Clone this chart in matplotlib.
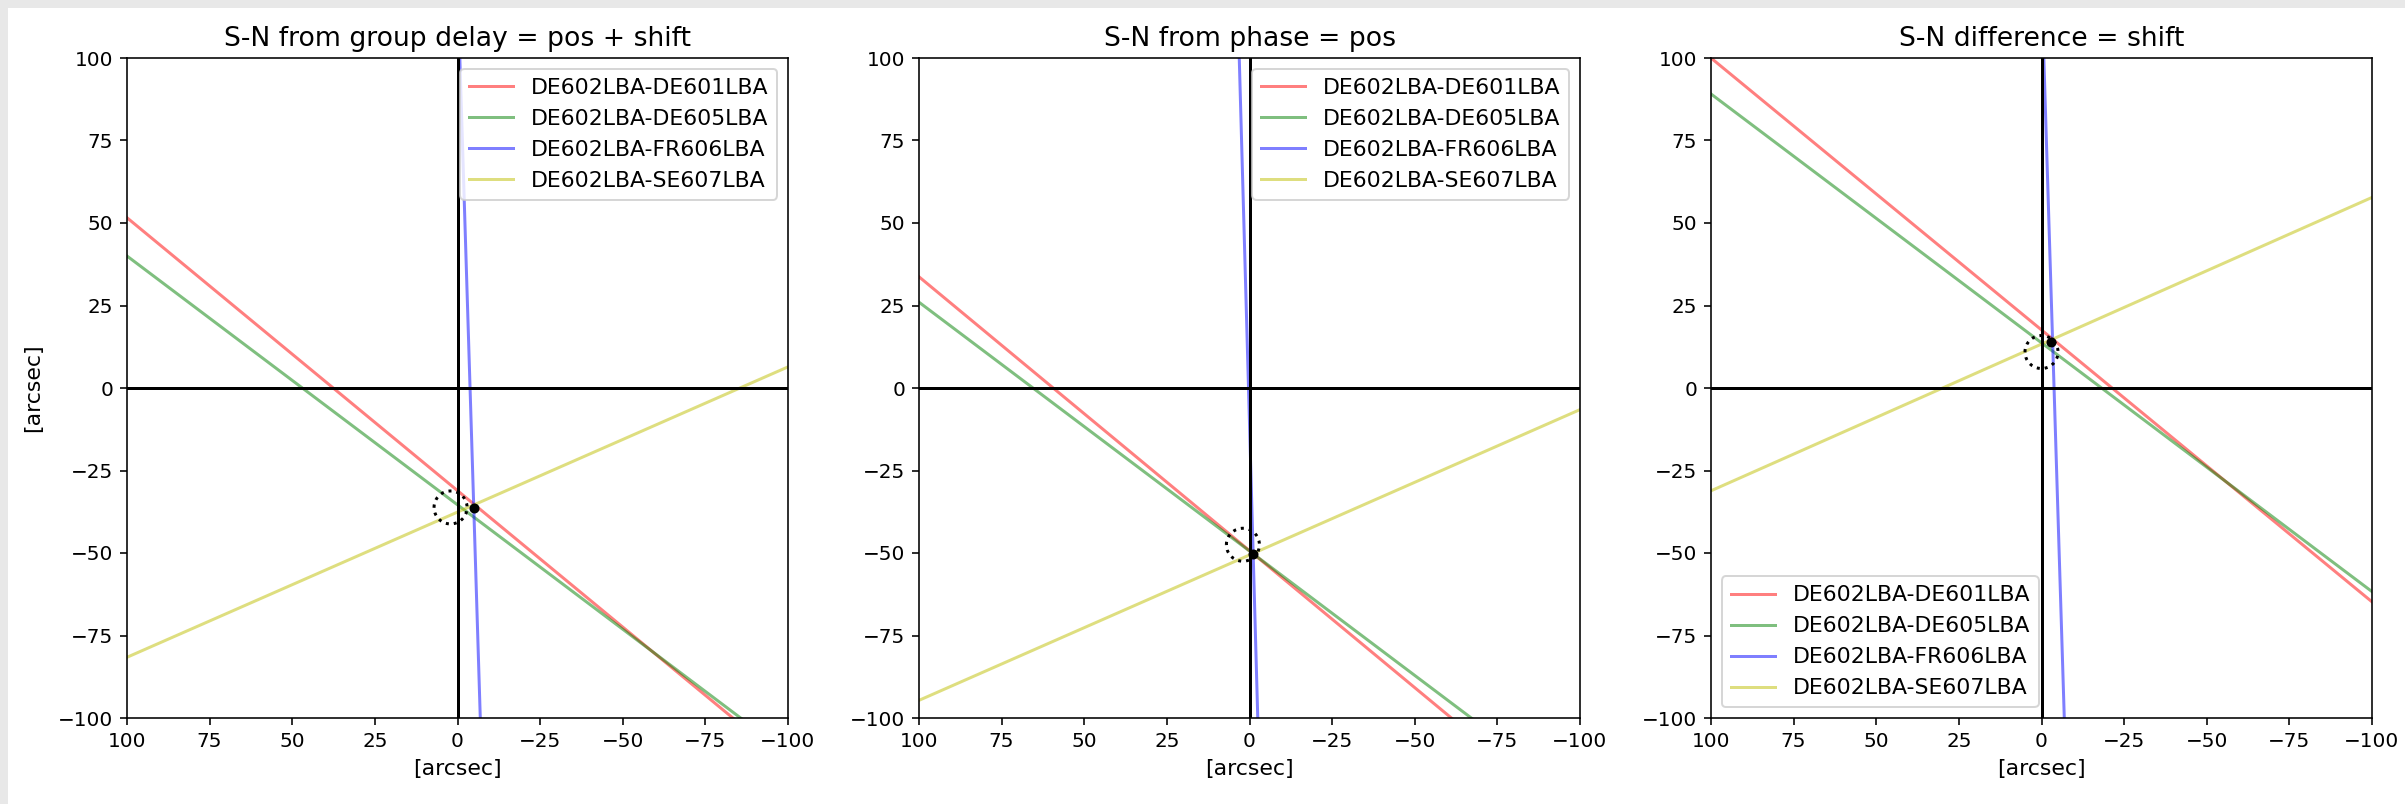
import numpy as np
import matplotlib
matplotlib.use("Agg")
import matplotlib.pyplot as plt
from matplotlib.patches import Rectangle

# ---- data ----
titles = ["S-N from group delay = pos + shift", "S-N from phase = pos", "S-N difference = shift"]
baselines = ["DE602LBA-DE601LBA", "DE602LBA-DE605LBA", "DE602LBA-FR606LBA", "DE602LBA-SE607LBA"]
colors = ["r", "g", "b", "y"]

# each line: y = slope * x + intercept   (per panel, per baseline)
slopes_groupdelay = [0.827, 0.754, 32.3, -0.440]
intercepts_groupdelay = [-31.1, -35.4, 122.7, -37.6]

slopes_phase = [0.830, 0.754, 35.7, -0.4405]
intercepts_phase = [-49.3, -49.4, -10.7, -50.6]

slopes_diff = [0.824, 0.754, 32.3, -0.4445]
intercepts_diff = [17.6, 13.7, 122.7, 13.3]

# solution point (solid dot) per panel
dot_x = [-5.0, -1.2, -3.0]
dot_y = [-36.4, -50.2, 14.0]

# dotted circle centre and radius per panel
circle_x = [2.1, 2.0, 0.0]
circle_y = [-36.2, -47.5, 10.9]
circle_r = [5.0, 5.0, 5.0]

legend_locs = ["upper right", "upper right", "lower left"]

# ---- figure ----
DPI = 144
fig = plt.figure(figsize=(2405 / DPI, 804 / DPI), dpi=DPI)
fig.patch.set_facecolor("white")

# light grey page border seen at top and left of the screenshot
fig.patches.append(Rectangle((0, 1 - 8 / 804), 1, 8 / 804, transform=fig.transFigure,
                             facecolor="#e8e8e8", edgecolor="none", zorder=-10))
fig.patches.append(Rectangle((0, 0), 8 / 2405, 1, transform=fig.transFigure,
                             facecolor="#e8e8e8", edgecolor="none", zorder=-10))

lefts = [127 / 2405, 919 / 2405, 1711 / 2405]
bottom = 1 - 718 / 804
width = 661 / 2405
height = 660 / 804

slopes_all = [slopes_groupdelay, slopes_phase, slopes_diff]
inter_all = [intercepts_groupdelay, intercepts_phase, intercepts_diff]

x = np.linspace(-100, 100, 401)
theta = np.linspace(0, 2 * np.pi, 200)

for i in range(3):
    ax = fig.add_axes([lefts[i], bottom, width, height])
    for j in range(4):
        y = slopes_all[i][j] * x + inter_all[i][j]
        ax.plot(x, y, color=colors[j], alpha=0.5, lw=1.5, label=baselines[j])
    ax.axhline(0, color="k", lw=1.5)
    ax.axvline(0, color="k", lw=1.5)
    ax.plot(circle_x[i] + circle_r[i] * np.cos(theta),
            circle_y[i] + circle_r[i] * np.sin(theta), "k:", lw=1.5)
    ax.plot([dot_x[i]], [dot_y[i]], "ko", ms=4)
    ax.set_xlim(100, -100)
    ax.set_ylim(-100, 100)
    ax.tick_params(labelsize=10)
    ax.set_title(titles[i], fontsize=13.3)
    ax.set_xlabel("[arcsec]", fontsize=11)
    if i == 0:
        ax.set_ylabel("[arcsec]", fontsize=11, labelpad=7.5)
    ax.legend(loc=legend_locs[i], fontsize=11)

fig.savefig("out.png", dpi=DPI)
